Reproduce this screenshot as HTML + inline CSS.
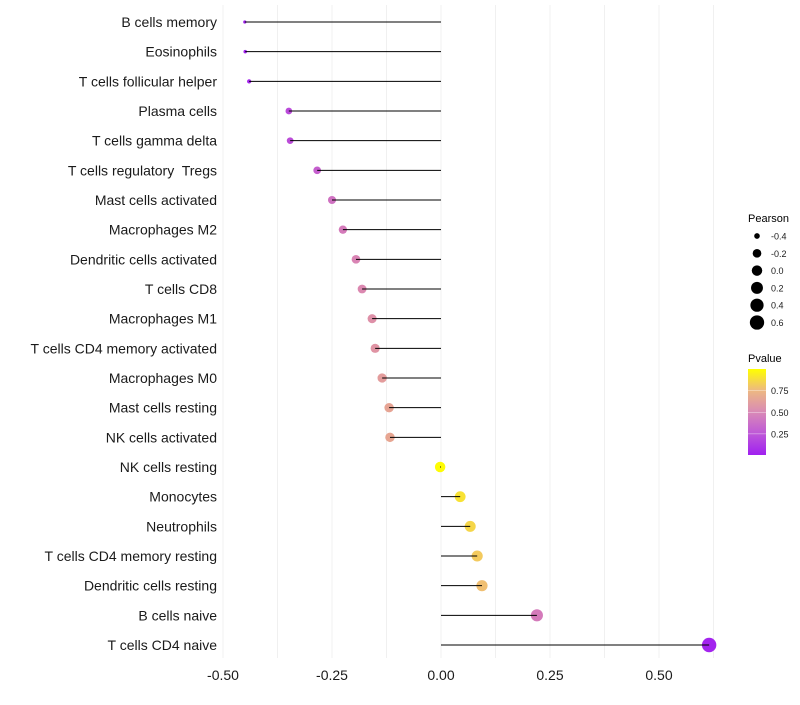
<!DOCTYPE html>
<html><head><meta charset="utf-8"><style>
body{margin:0;background:#fff}
svg text{font-family:"Liberation Sans",sans-serif;white-space:pre}
</style></head><body>
<svg id="chart" width="800" height="700" xmlns="http://www.w3.org/2000/svg">
<defs><linearGradient id="pg" x1="0" y1="1" x2="0" y2="0">
<stop offset="0" stop-color="#A020F0"/><stop offset="0.25" stop-color="#BE58D8"/><stop offset="0.5" stop-color="#D98AB6"/><stop offset="0.75" stop-color="#EDB882"/><stop offset="1" stop-color="#FFFF00"/></linearGradient></defs>
<g id="grid"></g>
<g id="marks"></g>
<g id="ylabels"></g>
<g id="xlabels"></g>
<g id="legend">
<text x="748" y="222" font-size="11">Pearson</text>
<g id="sizeLegend"></g>
<text x="748" y="362" font-size="11">Pvalue</text>
<rect x="748" y="369" width="18" height="86" fill="url(#pg)"/>
<g id="colorTicks"></g>
</g>
</svg>
<script>
const categories=["B cells memory","Eosinophils","T cells follicular helper","Plasma cells","T cells gamma delta","T cells regulatory  Tregs","Mast cells activated","Macrophages M2","Dendritic cells activated","T cells CD8","Macrophages M1","T cells CD4 memory activated","Macrophages M0","Mast cells resting","NK cells activated","NK cells resting","Monocytes","Neutrophils","T cells CD4 memory resting","Dendritic cells resting","B cells naive","T cells CD4 naive"];
const pearson=[-0.450,-0.449,-0.440,-0.349,-0.346,-0.284,-0.250,-0.225,-0.195,-0.181,-0.158,-0.151,-0.135,-0.119,-0.117,-0.002,0.044,0.067,0.083,0.094,0.220,0.615];
const pvalues=[0.01,0.01,0.03,0.2,0.21,0.3,0.4,0.45,0.5,0.52,0.56,0.58,0.62,0.66,0.67,0.99,0.9,0.86,0.82,0.78,0.45,0.02];
const xTicks=[-0.5,-0.25,0,0.25,0.5];
const xTickLabels=["-0.50","-0.25","0.00","0.25","0.50"];
const sizeLegendValues=[-0.4,-0.2,0.0,0.2,0.4,0.6];
const sizeLegendLabels=["-0.4","-0.2","0.0","0.2","0.4","0.6"];
const colorTicks=[0.25,0.5,0.75];
const colorTickLabels=["0.25","0.50","0.75"];

const NS="http://www.w3.org/2000/svg";
const x=v=>441+v*436;
const y=i=>22+i*(623/21);
const pmin=Math.min(...pearson),pmax=Math.max(...pearson);
const r=v=>{const t=Math.max(0,Math.min(1,(v-pmin)/(pmax-pmin)));return 1.6+5.6*Math.sqrt(t);};
const stops=[[0,[160,32,240]],[0.25,[192,84,212]],[0.5,[217,132,180]],[0.75,[238,182,130]],[1,[255,255,0]]];
function col(p){for(let k=1;k<stops.length;k++){if(p<=stops[k][0]){const a=stops[k-1],b=stops[k];const t=(p-a[0])/(b[0]-a[0]);return `rgb(${a[1].map((c,j)=>Math.round(c+(b[1][j]-c)*t)).join(',')})`;}}return 'rgb(255,255,0)';}
function mk(tag,attrs,parent){const e=document.createElementNS(NS,tag);for(const k in attrs)e.setAttribute(k,attrs[k]);parent.appendChild(e);return e;}
const grid=document.getElementById('grid');
for(let v=-0.5;v<=0.625;v+=0.125){const g=mk('line',{x1:x(v),x2:x(v),y1:5,y2:658,stroke:'#f0f0f0','stroke-width':1},grid);

}
const marks=document.getElementById('marks');
const yl=document.getElementById('ylabels');
categories.forEach((c,i)=>{
 const pt=mk('circle',{cx:x(pearson[i]),cy:y(i),r:r(pearson[i]),fill:col(pvalues[i])},marks);
 
 
 const ln=mk('line',{x1:x(0),x2:x(pearson[i]),y1:y(i),y2:y(i),stroke:'#000','stroke-width':1},marks);
 
 
 const t=mk('text',{x:217,y:y(i)+5,'text-anchor':'end','font-size':14,fill:'#1a1a1a'},yl);t.textContent=c;
 
 
});
const xl=document.getElementById('xlabels');
xTicks.forEach((v,i)=>{const t=mk('text',{x:x(v),y:680,'text-anchor':'middle','font-size':14,fill:'#1a1a1a'},xl);t.textContent=xTickLabels[i];

});
const sl=document.getElementById('sizeLegend');
sizeLegendValues.forEach((v,i)=>{const cy=236+i*17.3;
 const c=mk('circle',{cx:757,cy:cy,r:r(v),fill:'#000'},sl);
 
 
 const t=mk('text',{x:771,y:cy+3.5,'font-size':9,fill:'#1a1a1a'},sl);t.textContent=sizeLegendLabels[i];
 
 });
const ct=document.getElementById('colorTicks');
colorTicks.forEach((p,i)=>{const yy=455.5-p*86.5;
 const l=mk('line',{x1:748,x2:766,y1:yy,y2:yy,stroke:'#fff','stroke-width':0.6,opacity:0.7},ct);
 
 
 const t=mk('text',{x:771,y:yy+3.5,'font-size':9,fill:'#1a1a1a'},ct);t.textContent=colorTickLabels[i];
 
 });
</script>
</body></html>
